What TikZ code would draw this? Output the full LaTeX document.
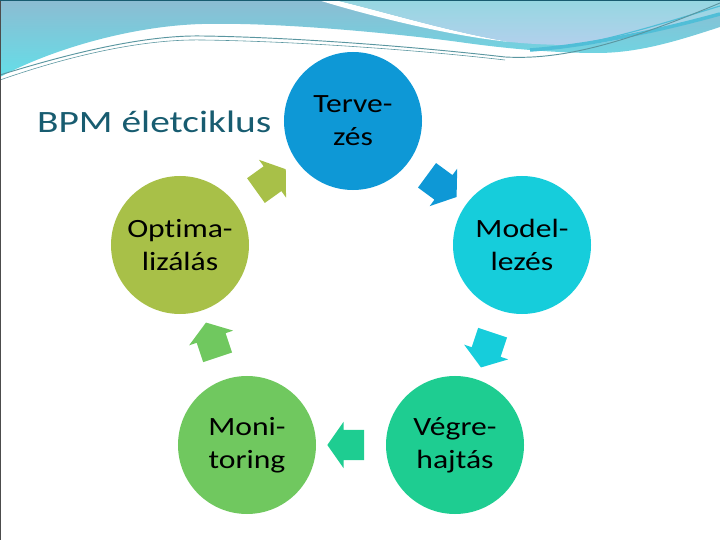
\documentclass[tikz,border=0pt]{standalone}
\usepackage{fontspec}
\setmainfont[Ligatures=NoCommon, FakeStretch=1.2]{Carlito}
\newfontfamily\titlefont[Ligatures=NoCommon, FakeStretch=1.27]{Carlito}
\usetikzlibrary{shapes.arrows, positioning, calc}

\definecolor{tervcol}{RGB}{14,152,214}
\definecolor{modcol}{RGB}{22,205,219}
\definecolor{vegcol}{RGB}{30,205,145}
\definecolor{monicol}{RGB}{112,200,95}
\definecolor{optcol}{RGB}{168,192,72}
\definecolor{titlecol}{RGB}{24,92,112}
\definecolor{swtop}{RGB}{140,188,210}
\definecolor{swcyan}{RGB}{100,222,232}
\definecolor{swlight}{RGB}{150,215,225}
\definecolor{swlav}{RGB}{178,208,236}
\definecolor{swdark}{RGB}{80,190,215}
\definecolor{swline}{RGB}{90,150,160}

\tikzset{
  phase/.style={circle, minimum size=4.14cm, inner sep=0pt, align=center,
    font=\fontsize{22.5}{28}\selectfont, text=black},
  arrowblk/.style={single arrow, draw=none, inner sep=0pt,
    text height=0.45cm, text depth=0.45cm, text width=0pt,
    minimum height=1.1cm, single arrow head extend=0.24cm,
    single arrow tip angle=110, sloped, allow upside down, midway}
}

\begin{document}
\begin{tikzpicture}[x=0.03cm, y=-0.03cm]
    \useasboundingbox (0,0) rectangle (720,540);

    % Top swoosh
    \shade[top color=swtop, bottom color=swcyan] (0,0) -- (720,0) -- (720,27)
        .. controls (680,40) and (640,53) .. (597,53)
        .. controls (540,53) and (480,45) .. (459,42)
        .. controls (400,34) and (280,22) .. (202,24)
        .. controls (130,26) and (50,50) .. (0,77) -- cycle;
    \fill[white] (318,0) -- (335,0) .. controls (385,12) and (450,32) .. (510,42)
        .. controls (450,36) and (370,16) .. (318,0) -- cycle;
    \shade[top color=swlight, bottom color=swlav] (335,0) -- (720,0) -- (720,15)
        .. controls (660,30) and (610,45) .. (574,45)
        .. controls (550,45) and (530,44) .. (510,42)
        .. controls (450,32) and (385,12) .. (335,0) -- cycle;
    \draw[swdark, line width=3] (530,50) .. controls (600,45) and (680,25) .. (720,14);
    \draw[swdark, line width=1] (560,48) .. controls (620,38) and (680,18) .. (720,6);
    \draw[swline, line width=0.8] (0,75) .. controls (80,50) and (150,35) .. (202,36)
        .. controls (280,37) and (400,45) .. (505,57)
        .. controls (560,60) and (620,45) .. (720,3);
    \draw[swline, line width=0.5] (0,80) .. controls (80,52) and (150,39) .. (202,40)
        .. controls (280,41) and (400,48) .. (505,60);

    % Title
    \node[anchor=west, text=titlecol, font=\titlefont\fontsize{26.5}{30}\selectfont] (title) at (33,122) {BPM életciklus};

    % Phases
    \node[phase, fill=tervcol] (terv) at (353,121) {Terve-\\zés};
    \node[phase, fill=modcol] (model) at (522,245) {Model-\\lezés};
    \node[phase, fill=vegcol] (vegre) at (455,445) {Végre-\\hajtás};
    \node[phase, fill=monicol] (moni) at (247,445) {Moni-\\toring};
    \node[phase, fill=optcol] (opt) at (180,245) {Optima-\\lizálás};

    % Block arrows
    \path (opt) -- node[arrowblk, fill=optcol] {} (terv);
    \path (terv) -- node[arrowblk, fill=tervcol] {} (model);
    \path (model) -- node[arrowblk, fill=modcol] {} (vegre);
    \path (vegre) -- node[arrowblk, fill=vegcol] {} (moni);
    \path (moni) -- node[arrowblk, fill=monicol] {} (opt);

    % Frame
    \draw[gray!60!black, line width=0.8] (0,0) rectangle (720,540);
    \draw[titlecol, line width=1.2] (0,0) -- (720,0);
\end{tikzpicture}
\end{document}
